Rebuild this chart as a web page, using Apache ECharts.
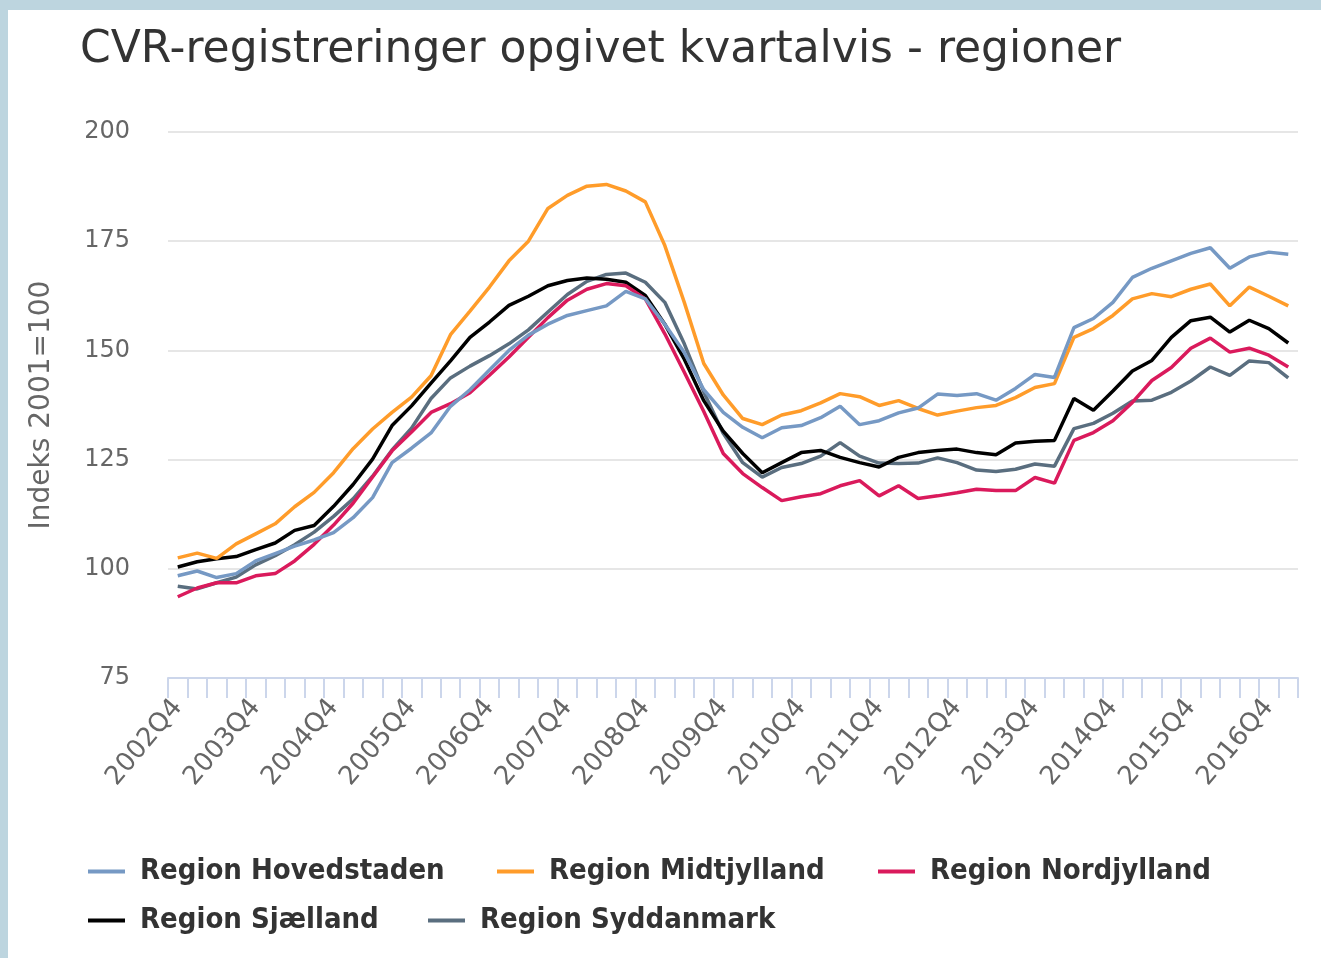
<!DOCTYPE html>
<html>
<head>
<meta charset="utf-8">
<script src="https://cdn.jsdelivr.net/npm/echarts@6/dist/echarts.min.js"></script>
<style>
  html, body { margin: 0; padding: 0; background: #bdd5df; width: 1321px; height: 958px; overflow: hidden; }
  #chart { position: absolute; left: 8px; top: 10px; width: 1313px; height: 948px; background: #ffffff; }
</style>
</head>
<body>
<div id="chart"></div>
<script>
// Categories: quarters 2002Q4 .. 2017Q1
const categories = [];
(function () {
  let y = 2002, q = 4;
  for (let i = 0; i < 58; i++) {
    categories.push(y + 'Q' + q);
    q++; if (q > 4) { q = 1; y++; }
  }
})();

const yTicks = [75, 100, 125, 150, 175, 200];

const hovedstaden = [98.4, 99.5, 98.0, 98.9, 101.8, 103.5, 105.2, 106.6, 108.3, 111.7, 116.3, 124.3, 127.6, 131.1, 137.2, 141.0,
  145.5, 150.0, 153.5, 156.0, 158.0, 159.1, 160.2, 163.5, 161.8, 156.0, 149.5, 141.0, 135.8, 132.4, 130.0, 132.3,
  132.8, 134.6, 137.2, 133.0, 133.9, 135.7, 136.8, 140.0, 139.7, 140.1, 138.6, 141.3, 144.5, 143.8, 155.2, 157.3,
  161.0, 166.7, 168.8, 170.5, 172.2, 173.5, 168.8, 171.4, 172.5, 172.0];

const midtjylland = [102.5, 103.6, 102.4, 105.7, 108.0, 110.3, 114.2, 117.5, 122.0, 127.5, 132.0, 135.8, 139.3, 144.2, 153.6, 159.0,
  164.5, 170.5, 175.0, 182.5, 185.5, 187.6, 188.0, 186.5, 184.0, 174.0, 161.0, 147.0, 139.8, 134.4, 133.0, 135.2,
  136.2, 138.0, 140.1, 139.4, 137.4, 138.5, 136.7, 135.2, 136.1, 136.9, 137.4, 139.2, 141.5, 142.4, 153.0, 155.0,
  158.0, 161.8, 163.0, 162.3, 164.0, 165.2, 160.2, 164.5, 162.4, 160.2];

const nordjylland = [93.6, 95.6, 96.8, 96.8, 98.4, 98.9, 101.8, 105.6, 110.0, 115.0, 121.0, 127.0, 131.3, 135.8, 137.8, 140.3,
  144.3, 148.5, 153.0, 157.5, 161.5, 164.0, 165.3, 164.8, 161.8, 153.8, 145.0, 136.0, 126.4, 121.8, 118.6, 115.6,
  116.5, 117.2, 119.0, 120.2, 116.7, 119.0, 116.1, 116.7, 117.4, 118.2, 117.9, 117.9, 120.9, 119.6, 129.4, 131.2,
  133.9, 138.1, 143.1, 146.1, 150.5, 152.8, 149.6, 150.5, 148.9, 146.2];

const sjaelland = [100.4, 101.6, 102.3, 102.8, 104.4, 105.9, 108.8, 109.9, 114.3, 119.3, 125.1, 132.8, 137.3, 142.5, 147.6, 153.0,
  156.5, 160.3, 162.4, 164.8, 166.0, 166.6, 166.3, 165.6, 162.6, 156.0, 148.0, 138.5, 131.5, 126.4, 122.0, 124.3,
  126.6, 127.1, 125.5, 124.3, 123.3, 125.5, 126.6, 127.1, 127.4, 126.6, 126.1, 128.8, 129.2, 129.4, 139.0, 136.3,
  140.7, 145.3, 147.7, 153.0, 156.8, 157.6, 154.2, 156.9, 155.0, 151.7];

const syddanmark = [96.0, 95.4, 96.8, 98.1, 100.9, 103.0, 105.5, 108.4, 112.0, 116.0, 121.2, 127.2, 132.2, 139.0, 143.7, 146.4,
  148.8, 151.5, 154.7, 158.8, 162.8, 165.8, 167.4, 167.7, 165.6, 161.0, 151.5, 140.5, 131.0, 124.3, 121.0, 123.2,
  124.1, 125.8, 128.9, 125.8, 124.2, 124.1, 124.2, 125.4, 124.3, 122.6, 122.3, 122.8, 124.0, 123.5, 132.1, 133.3,
  135.6, 138.4, 138.6, 140.4, 143.0, 146.2, 144.3, 147.6, 147.2, 143.7];

const seriesNames = ['Region Hovedstaden', 'Region Midtjylland', 'Region Nordjylland', 'Region Sjælland', 'Region Syddanmark'];
const seriesColors = ['#7699c4', '#ff9c2a', '#da1a5c', '#000000', '#5a6e7f'];
const seriesData = [hovedstaden, midtjylland, nordjylland, sjaelland, syddanmark];

const chart = echarts.init(document.getElementById('chart'), null, { renderer: 'canvas' });

const legendFont = {
  fontFamily: 'DejaVu Sans Condensed',
  fontWeight: 'bold',
  fontSize: 29,
  color: '#333333',
  padding: [0, 0, 0, 10]
};
function legendAt(name, left, top) {
  return {
    data: [name], left: left, top: top, orient: 'horizontal', padding: 0,
    icon: 'rect', itemWidth: 37, itemHeight: 4,
    textStyle: legendFont, selectedMode: false
  };
}

const option = {
  animation: false,
  backgroundColor: '#ffffff',
  title: {
    text: 'CVR-registreringer opgivet kvartalvis - regioner',
    left: 67, top: 14,
    textStyle: { fontFamily: 'DejaVu Sans', fontWeight: 'normal', fontSize: 44, color: '#333333' }
  },
  legend: [
    legendAt(seriesNames[0], 80, 847),
    legendAt(seriesNames[1], 489, 847),
    legendAt(seriesNames[2], 870, 847),
    legendAt(seriesNames[3], 80, 896),
    legendAt(seriesNames[4], 420, 896)
  ],
  grid: { left: 160, right: 23, top: 122, bottom: 280, containLabel: false },
  xAxis: {
    type: 'category',
    data: categories,
    boundaryGap: true,
    axisLine: { show: true, lineStyle: { color: '#ccd6eb', width: 2 } },
    axisTick: { show: true, interval: 0, length: 20, lineStyle: { color: '#ccd6eb', width: 2 } },
    axisLabel: {
      interval: 3, rotate: 50, margin: 25,
      fontFamily: 'DejaVu Sans', fontSize: 26, color: '#666666'
    },
    splitLine: { show: false }
  },
  yAxis: {
    type: 'value',
    min: yTicks[0], max: yTicks[yTicks.length - 1], interval: 25,
    name: 'Indeks 2001=100',
    nameLocation: 'middle',
    nameGap: 112,
    nameRotate: 90,
    nameTextStyle: { fontFamily: 'DejaVu Sans', fontSize: 28, color: '#666666' },
    axisLine: { show: false },
    axisTick: { show: false },
    axisLabel: { margin: 38, fontFamily: 'DejaVu Sans', fontSize: 24, color: '#666666' },
    splitLine: { show: true, lineStyle: { color: '#e6e6e6', width: 2 } }
  },
  series: seriesNames.map((n, i) => ({
    name: n,
    type: 'line',
    data: seriesData[i],
    color: seriesColors[i],
    symbol: 'none',
    smooth: false,
    lineStyle: { width: 3.5, color: seriesColors[i] },
    z: 10 - i
  }))
};
chart.setOption(option);
</script>
</body>
</html>
